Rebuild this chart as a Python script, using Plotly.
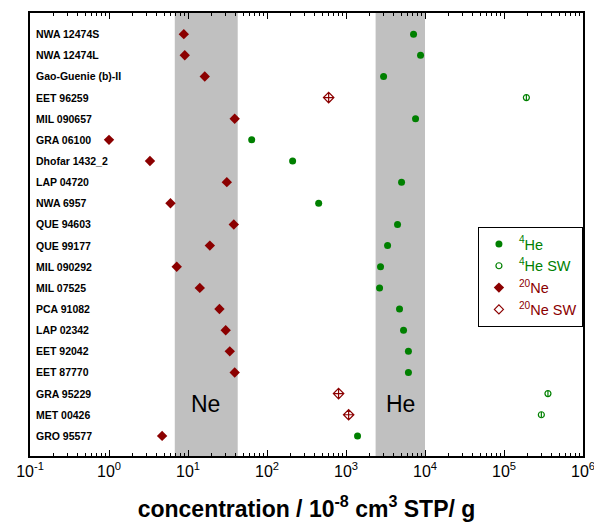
import math
import plotly.graph_objects as go

samples = ["NWA 12474S", "NWA 12474L", "Gao-Guenie (b)-II", "EET 96259", "MIL 090657",
           "GRA 06100", "Dhofar 1432_2", "LAP 04720", "NWA 6957", "QUE 94603",
           "QUE 99177", "MIL 090292", "MIL 07525", "PCA 91082", "LAP 02342",
           "EET 92042", "EET 87770", "GRA 95229", "MET 00426", "GRO 95577"]

# 20Ne (filled) and 20Ne solar-wind (open); None = not present
ne = [8.85, 9.1, 16.3, None, 39, 1.0, 3.3, 31, 6.0, 38,
      18.9, 7.2, 14.1, 25, 30, 33.8, 39, None, None, 4.7]
ne_sw = [None, None, None, 603, None, None, None, None, None, None,
         None, None, None, None, None, None, None, 805, 1080, None]
# 4He (filled) and 4He solar-wind (open)
he = [7160, 8780, 2990, None, 7590, 64, 211, 5050, 451, 4490,
      3360, 2735, 2660, 4760, 5350, 6170, 6170, None, None, 1400]
he_sw = [None, None, None, 1.92e5, None, None, None, None, None, None,
         None, None, None, None, None, None, None, 3.6e5, 2.97e5, None]

ne_band = [6.8, 42.6]
he_band = [2370, 10000]

tick_vals = [0.1, 1, 10, 100, 1000, 1e4, 1e5, 1e6]
tick_text = ["10<sup>-1</sup>", "10<sup>0</sup>", "10<sup>1</sup>", "10<sup>2</sup>",
             "10<sup>3</sup>", "10<sup>4</sup>", "10<sup>5</sup>", "10<sup>6</sup>"]

GREEN = "#008000"
RED = "#8B0000"
FONT = "Arial, Liberation Sans, sans-serif"

fig = go.Figure()

def pts(vals):
    xs, ys = [], []
    for s, v in zip(samples, vals):
        if v is not None:
            xs.append(v)
            ys.append(s)
    return xs, ys

x, y = pts(he)
fig.add_trace(go.Scatter(x=x, y=y, mode="markers", showlegend=False,
                         marker=dict(symbol="circle", size=7, color=GREEN)))
x, y = pts(he_sw)
fig.add_trace(go.Scatter(x=x, y=y, mode="markers", showlegend=False,
                         marker=dict(symbol="circle-open", size=6, color=GREEN,
                                     line=dict(width=1.2, color=GREEN))))
fig.add_trace(go.Scatter(x=x, y=y, mode="markers", showlegend=False,
                         marker=dict(symbol="line-ns", size=4,
                                     line=dict(width=1.2, color=GREEN))))
x, y = pts(ne)
fig.add_trace(go.Scatter(x=x, y=y, mode="markers", showlegend=False,
                         marker=dict(symbol="diamond", size=8, color=RED)))
x, y = pts(ne_sw)
fig.add_trace(go.Scatter(x=x, y=y, mode="markers", showlegend=False,
                         marker=dict(symbol="diamond-cross-open", size=8, color=RED,
                                     line=dict(width=1.2, color=RED))))

# legend-only entries
fig.add_trace(go.Scatter(x=[None], y=[None], mode="markers",
                         name=f'<span style="color:{GREEN}"><sup>4</sup>He</span>',
                         marker=dict(symbol="circle", size=7, color=GREEN)))
fig.add_trace(go.Scatter(x=[None], y=[None], mode="markers",
                         name=f'<span style="color:{GREEN}"><sup>4</sup>He SW</span>',
                         marker=dict(symbol="circle-open", size=6, color=GREEN,
                                     line=dict(width=1.2, color=GREEN))))
fig.add_trace(go.Scatter(x=[None], y=[None], mode="markers",
                         name=f'<span style="color:{RED}"><sup>20</sup>Ne</span>',
                         marker=dict(symbol="diamond", size=8, color=RED)))
fig.add_trace(go.Scatter(x=[None], y=[None], mode="markers",
                         name=f'<span style="color:{RED}"><sup>20</sup>Ne SW</span>',
                         marker=dict(symbol="diamond-open", size=7, color=RED,
                                     line=dict(width=1.2, color=RED))))

for band in (ne_band, he_band):
    fig.add_shape(type="rect", xref="x", yref="paper", x0=band[0], x1=band[1],
                  y0=0, y1=1, fillcolor="#C0C0C0", line=dict(width=0), layer="below")

fig.add_annotation(x=math.log10(16.5), y="GRA 95229", xref="x", yref="y", text="Ne",
                   showarrow=False, yshift=-10, font=dict(family=FONT, size=23, color="black"))
fig.add_annotation(x=math.log10(4900), y="GRA 95229", xref="x", yref="y", text="He",
                   showarrow=False, yshift=-10, font=dict(family=FONT, size=23, color="black"))

for s in samples:
    fig.add_annotation(x=0.007, y=s, xref="paper", yref="y", text=f"<b>{s}</b>",
                       xanchor="left", showarrow=False,
                       font=dict(family=FONT, size=10.5, color="black"))

fig.update_xaxes(type="log", range=[-1, 6], tickvals=tick_vals, ticktext=tick_text,
                 automargin=False,
                 ticks="inside", ticklen=6, tickwidth=1, tickcolor="black",
                 minor=dict(ticks="inside", ticklen=3, tickcolor="black", dtick="D1"),
                 showline=True, linecolor="black", linewidth=1.5, mirror="allticks",
                 showgrid=False, zeroline=False,
                 tickfont=dict(family=FONT, size=16, color="black"),
                 title=dict(text="<b>concentration / 10<sup>-8</sup> cm<sup>3</sup> STP/ g</b>",
                            font=dict(family=FONT, size=23, color="black"), standoff=22))
fig.update_yaxes(type="category", categoryorder="array", categoryarray=samples,
                 automargin=False,
                 range=[19.95, -1.0], showticklabels=False, ticks="",
                 showline=True, linecolor="black", linewidth=1.5, mirror=True,
                 showgrid=False, zeroline=False)

# page body has an 8px margin, so the figure is sized/offset to compensate
fig.update_layout(width=594, height=517, margin=dict(l=22, r=19, t=5, b=69),
                  plot_bgcolor="white", paper_bgcolor="white",
                  legend=dict(x=0.81, y=0.517, xanchor="left", yanchor="top",
                              bordercolor="black", borderwidth=1, bgcolor="white",
                              font=dict(family=FONT, size=14.5), tracegroupgap=0,
                              itemsizing="trace"))

fig.write_html("out.html")
